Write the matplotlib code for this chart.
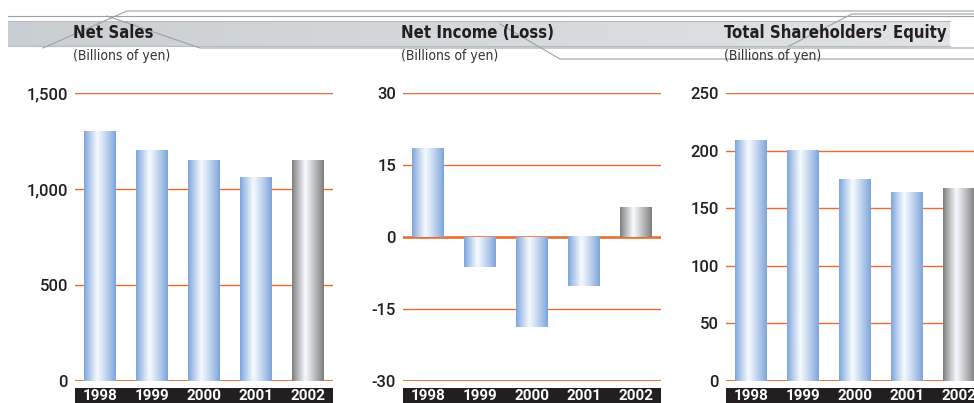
import matplotlib
matplotlib.use('Agg')
import matplotlib.pyplot as plt
import numpy as np
from matplotlib.patches import Rectangle

# Data (billions of yen)
years = ['1998', '1999', '2000', '2001', '2002']
net_sales = [1297, 1203, 1151, 1062, 1146]
net_income = [18.5, -6.2, -18.7, -10.3, 6.2]
equity = [209, 200, 175, 164, 167.5]

titles = ['Net Sales', 'Net Income (Loss)', 'Total Shareholders\u2019 Equity']
subtitle = '(Billions of yen)'
ticks_sales = [0, 500, 1000, 1500]
ticks_income = [-30, -15, 0, 15, 30]
ticks_equity = [0, 50, 100, 150, 200, 250]

W, H = 974, 403
fig = plt.figure(figsize=(W / 100, H / 100), dpi=100)

sans = ['Roboto', 'Liberation Sans', 'DejaVu Sans']
orange = '#ec6a2c'

# horizontal gradient images for the bars
pos = np.linspace(0, 1, 256)
def grad(edge, mid=0.42):
    e = np.array(matplotlib.colors.to_rgb(edge))
    w = np.array([0.97, 0.98, 1.0])
    t = np.where(pos < mid, pos / mid, (1 - pos) / (1 - mid))
    t = t ** 0.9
    return (e[None, :] * (1 - t[:, None]) + w[None, :] * t[:, None])[None, :, :]

blue_img = grad('#7aa3db')
gray_img = grad('#7a7a7a')

# header overlay in pixel coordinates
hdr = fig.add_axes([0, 0, 1, 1], zorder=0)
hdr.set_xlim(0, W)
hdr.set_ylim(H, 0)
hdr.axis('off')
band = np.linspace(0, 1, 200)
bcol = np.array([0.79, 0.81, 0.83])[None, :] * (1 - band[:, None] * 0.6) + np.array([0.94, 0.94, 0.95])[None, :] * band[:, None] * 0.6
hdr.imshow(bcol[None, :, :], extent=[8, 950, 46, 21], aspect='auto', zorder=1)
hdr.plot([8, 950], [21, 21], color='#b8bcc0', lw=0.8, zorder=2)
hdr.plot([8, 950], [46, 46], color='#b8bcc0', lw=0.8, zorder=2)
lc = '#9aa2a8'
hdr.plot([8, 974], [16, 16], color=lc, lw=0.8, zorder=3)
hdr.plot([43, 127, 974], [48, 11, 11], color=lc, lw=0.8, zorder=3)
hdr.plot([107, 200, 974], [16, 48, 48], color=lc, lw=0.8, zorder=3)
hdr.plot([500, 560, 974], [24, 59, 59], color=lc, lw=0.8, zorder=3)
hdr.plot([789, 852, 974], [46, 14, 14], color=lc, lw=0.8, zorder=3)

panels = [
    (75, 333, net_sales, (0, 1500), ticks_sales),
    (403, 661, net_income, (-30, 30), ticks_income),
    (726, 974, equity, (0, 250), ticks_equity),
]

for i, (x0, x1, vals, ylim, ticks) in enumerate(panels):
    ax = fig.add_axes([x0 / W, (H - 381) / H, (x1 - x0) / W, 288 / H], zorder=2)
    ax.patch.set_alpha(0)
    step = 52
    for s in ax.spines.values():
        s.set_visible(False)
    ax.set_xticks([])
    ax.set_yticks(ticks)
    ax.set_yticklabels([f'{t:,}' for t in ticks], fontsize=12, family=sans,
                       fontweight='medium', color='#231f20')
    ax.tick_params(axis='y', length=0, pad=5)
    for t in ticks:
        lw = 2 if t == ylim[0] else 1
        ax.axhline(t, color=orange, lw=lw, zorder=1)
    if ylim[0] < 0:
        ax.axhline(0, color=orange, lw=1.8, zorder=1)
    bw = 32 / step
    xs = np.arange(len(years))
    bars = ax.bar(xs, vals, width=bw, color='none', zorder=2)
    for j, b in enumerate(bars):
        img = gray_img if j == len(years) - 1 else blue_img
        y0, y1 = sorted([0, vals[j]])
        ax.imshow(img, extent=[xs[j] - bw / 2, xs[j] + bw / 2, y0, y1],
                  aspect='auto', zorder=2, interpolation='bilinear')
    ax.set_xlim(-25 / step, (x1 - x0 - 25) / step)
    ax.set_ylim(*ylim)
    # black year strip
    ax.add_patch(Rectangle((0, -22 / 288), 1, 15 / 288, transform=ax.transAxes,
                           facecolor='#231f20', edgecolor='none', clip_on=False, zorder=3))
    for j, yr in enumerate(years):
        ax.text(xs[j], -15 / 288, yr, transform=ax.get_xaxis_transform(), ha='center', va='center',
                color='white', fontsize=11, fontweight='bold', family=sans, zorder=4, clip_on=False)
    # titles
    tx = x0 - 2
    fig.text(tx / W, 1 - 33 / H, titles[i], fontsize=12, fontweight='bold', family='DejaVu Sans',
             fontstretch='condensed', color='#231f20', va='center', ha='left', zorder=5)
    fig.text(tx / W, 1 - 56 / H, subtitle, fontsize=10, family='DejaVu Sans', fontstretch='condensed',
             fontweight='light', color='#333333', va='center', ha='left', zorder=5)

fig.savefig('out.png', dpi=100)
